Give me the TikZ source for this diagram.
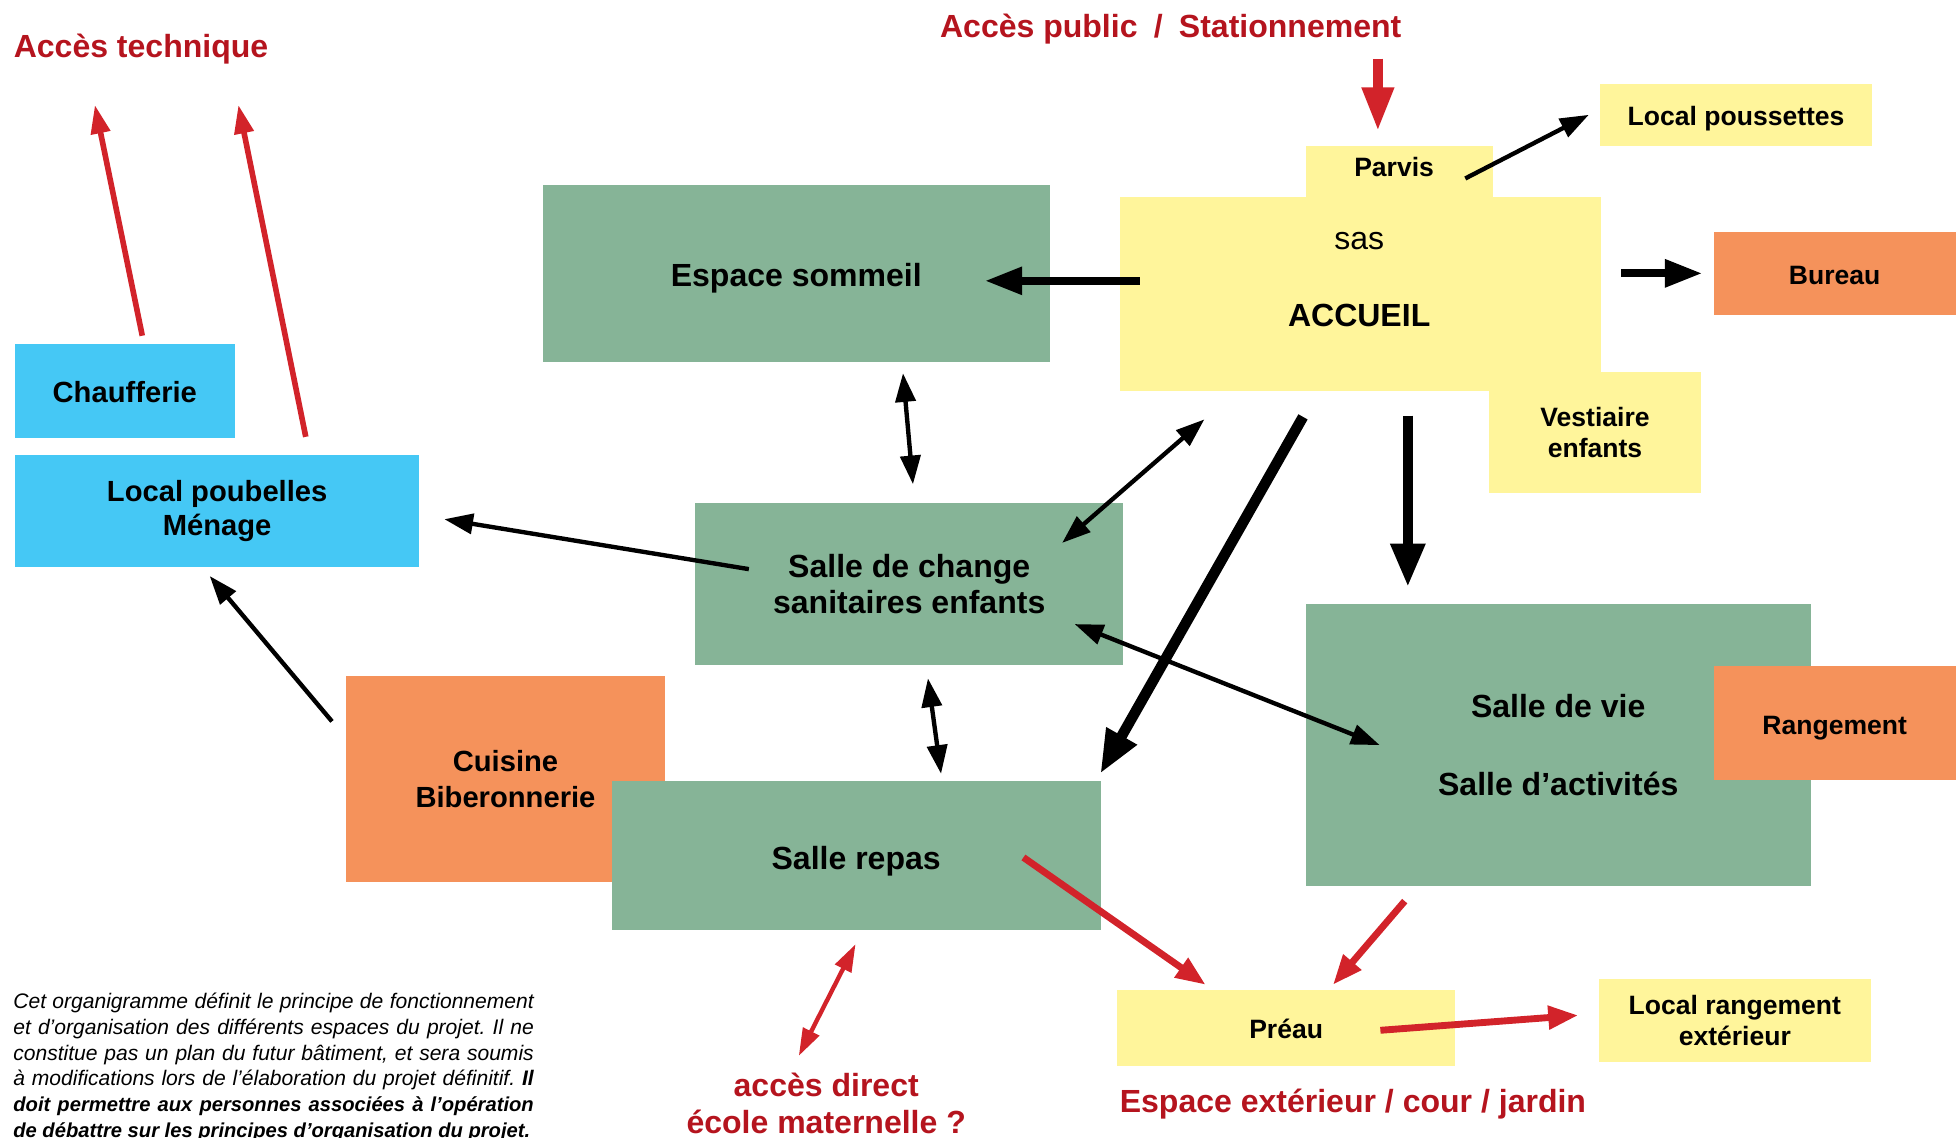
\documentclass[tikz,border=0pt]{standalone}
\usepackage{fontspec}
\setmainfont{Liberation Sans}
\usetikzlibrary{arrows.meta}

\definecolor{vert}{RGB}{134,180,151}
\definecolor{jaune}{RGB}{255,245,155}
\definecolor{bleu}{RGB}{69,200,245}
\definecolor{orangeloc}{RGB}{245,146,91}
\definecolor{rouge}{RGB}{210,35,42}
\definecolor{rougetxt}{RGB}{181,20,30}

\newcommand{\etiqg}{\fontsize{7.3}{8.4}\selectfont\bfseries}
\newcommand{\etiqm}{\fontsize{6.65}{7.7}\selectfont\bfseries}
\newcommand{\etiqp}{\fontsize{6.05}{7.1}\selectfont\bfseries}

\begin{document}
\begin{tikzpicture}[x=0.1mm,y=-0.1mm,
	piece/.style={rectangle,inner sep=0pt,align=center},
	grand/.style={piece,font=\etiqg},
	moyen/.style={piece,font=\etiqm},
	petit/.style={piece,font=\etiqp},
	une/.style={text height=#1,text depth=0pt},
	titre/.style={inner sep=0pt,font=\etiqg,text=rougetxt,align=center},
	fleche/.style={line width=0.35mm,-{Triangle[length=2.3mm,width=1.6mm]}},
	dfleche/.style={line width=0.35mm,{Triangle[length=2.3mm,width=1.6mm]}-{Triangle[length=2.3mm,width=1.6mm]}},
	moyenne/.style={line width=0.65mm,-{Triangle[length=3mm,width=2.1mm]}},
	grosse/.style={line width=0.85mm,-{Triangle[length=3.5mm,width=2.6mm]}},
	rougef/.style={rouge,line width=0.45mm,-{Triangle[length=2.3mm,width=1.5mm]}},
	rougeg/.style={rouge,line width=0.55mm,-{Triangle[length=2.4mm,width=1.8mm]}},
	rougeh/.style={rouge,line width=0.8mm,-{Triangle[length=3.5mm,width=2.4mm]}},
	rouged/.style={rouge,line width=0.35mm,{Triangle[length=2.2mm,width=1.4mm]}-{Triangle[length=2.2mm,width=1.4mm]}}]
			\useasboundingbox (0,0) rectangle (1568,911);

			\node [piece,fill=jaune,minimum width=15mm,minimum height=4.3mm] (parvis) at (1121,138.5) {};
			\node [piece,fill=jaune,minimum width=38.6mm,minimum height=15.5mm] (accueil) at (1090,235.5) {};
			\node [petit,fill=jaune,minimum width=17mm,minimum height=9.7mm] (vestiaire) at (1278,346.5) {Vestiaire\\enfants};
			\node [petit] (parvistxt) at (1117,134) {Parvis};
			\node [inner sep=0pt,font=\fontsize{7.3}{8.4}\selectfont] (sas) at (1089,193) {sas};
			\node [grand] (accueiltxt) at (1089,253) {ACCUEIL};
			\node [petit,une=4.9pt,fill=jaune,minimum width=21.8mm,minimum height=5mm] (poussettes) at (1391,92) {Local poussettes};
			\node [petit,une=4.9pt,fill=orangeloc,minimum width=19.4mm,minimum height=6.6mm] (bureau) at (1470,219) {Bureau};
			\node [grand,une=6.2pt,fill=vert,minimum width=40.6mm,minimum height=14.2mm] (sommeil) at (638,219) {Espace sommeil};
			\node [moyen,une=5.1pt,fill=bleu,minimum width=17.6mm,minimum height=7.5mm] (chaufferie) at (100,313.5) {Chaufferie};
			\node [moyen,fill=bleu,minimum width=32.4mm,minimum height=9mm] (poubelles) at (174,409.5) {Local poubelles\\Ménage};
			\node [grand,fill=vert,minimum width=34.3mm,minimum height=13mm] (change) at (728.5,468) {Salle de change\\sanitaires enfants};
			\node [moyen,fill=orangeloc,minimum width=25.6mm,minimum height=16.5mm] (cuisine) at (405,624.5) {Cuisine\\[0.5pt]Biberonnerie};
			\node [grand,une=6.2pt,fill=vert,minimum width=39.2mm,minimum height=11.9mm] (repas) at (686,685.5) {Salle repas};
			\node [grand,fill=vert,minimum width=40.5mm,minimum height=22.6mm] (vie) at (1248.5,597) {Salle de vie\\[9.2pt]Salle d’activités};
			\node [petit,une=4.9pt,fill=orangeloc,minimum width=19.4mm,minimum height=9.1mm] (rangement) at (1470,579.5) {Rangement};
			\node [petit,une=4.9pt,fill=jaune,minimum width=27.1mm,minimum height=6.1mm] (preau) at (1030.5,823.5) {Préau};
			\node [petit,fill=jaune,minimum width=21.8mm,minimum height=6.7mm] (rangext) at (1390,817.5) {Local rangement\\extérieur};

			\node [titre] (technique) at (113,39) {Accès technique};
			\node [titre] (public) at (938,23) {Accès public\hspace{1.3mm}/\hspace{1.3mm}Stationnement};
			\node [titre] (direct) at (662,884) {accès direct\\[0.1pt]école maternelle ?};
			\node [titre] (exterieur) at (1084,885) {Espace extérieur / cour / jardin};
			\node [anchor=north west,inner sep=0pt,text width=41.7mm,align=justify,font=\fontsize{4.8}{5.86}\selectfont\itshape] (note) at (10,795)
				{\frenchspacing\hyphenpenalty=10000\parfillskip=0pt Cet organigramme définit le principe de fonctionnement\linebreak
				et d’organisation des différents espaces du projet. Il ne\linebreak
				constitue pas un plan du futur bâtiment, et sera soumis\linebreak
				à modifications lors de l’élaboration du projet définitif. {\bfseries Il\linebreak
				\fontsize{4.6}{5.86}\selectfont doit permettre aux personnes associées à l’opération\linebreak
				de débattre sur les principes d’organisation du projet.}};

			\coordinate (techA) at (114,269);
			\coordinate (techAh) at (76,84);
			\coordinate (techB) at (245,350);
			\coordinate (techBh) at (191,84);
			\coordinate (publicB) at (1104,47);
			\coordinate (publicBh) at (1104,105);
			\coordinate (parvisD) at (1174,143);
			\coordinate (poussettesG) at (1273,92);
			\coordinate (accueilD) at (1299,219);
			\coordinate (bureauG) at (1364,219);
			\coordinate (accueilG) at (913,225);
			\coordinate (sommeilD) at (789,225);
			\coordinate (sommeilB) at (723.5,299);
			\coordinate (changeH) at (731.5,388);
			\coordinate (accueilBa) at (965,336);
			\coordinate (changeHd) at (851,435);
			\coordinate (accueilBb) at (1044,334);
			\coordinate (repasHd) at (881.5,620);
			\coordinate (accueilBc) at (1128,333);
			\coordinate (vieH) at (1128,470.5);
			\coordinate (changeD) at (861,500);
			\coordinate (vieG) at (1105.5,597);
			\coordinate (changeB) at (743.5,543.5);
			\coordinate (repasH) at (754,620);
			\coordinate (changeG) at (600,456);
			\coordinate (poubellesD) at (356,416);
			\coordinate (cuisineH) at (266,578);
			\coordinate (poubellesB) at (168,461.5);
			\coordinate (repasD) at (820,687);
			\coordinate (preauH) at (966,789);
			\coordinate (vieB) at (1125.5,722);
			\coordinate (preauHd) at (1068,789);
			\coordinate (preauD) at (1106,825.5);
			\coordinate (rangextG) at (1264.5,813.5);
			\coordinate (repasB) at (685.5,756.5);
			\coordinate (directH) at (640,846);

			\draw [rougef] (techA) -- (techAh);
			\draw [rougef] (techB) -- (techBh);
			\draw [rougeh] (publicB) -- (publicBh);
			\draw [fleche] (parvisD) -- (poussettesG);
			\draw [moyenne] (accueilD) -- (bureauG);
			\draw [moyenne] (accueilG) -- (sommeilD);
			\draw [dfleche] (sommeilB) -- (changeH);
			\draw [dfleche] (accueilBa) -- (changeHd);
			\draw [grosse] (accueilBb) -- (repasHd);
			\draw [grosse] (accueilBc) -- (vieH);
			\draw [dfleche] (changeD) -- (vieG);
			\draw [dfleche] (changeB) -- (repasH);
			\draw [fleche] (changeG) -- (poubellesD);
			\draw [fleche] (cuisineH) -- (poubellesB);
			\draw [rougeg] (repasD) -- (preauH);
			\draw [rougeg] (vieB) -- (preauHd);
			\draw [rougeg] (preauD) -- (rangextG);
			\draw [rouged] (repasB) -- (directH);
\end{tikzpicture}
\end{document}
